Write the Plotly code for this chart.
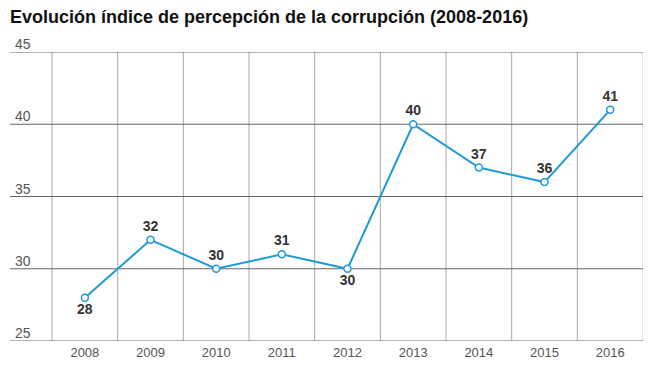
import plotly.graph_objects as go

years = ["2008", "2009", "2010", "2011", "2012", "2013", "2014", "2015", "2016"]
values = [28, 32, 30, 31, 30, 40, 37, 36, 41]
label_pos = ["bottom center", "top center", "top center", "top center", "bottom center",
             "top center", "top center", "top center", "top center"]
y_ticks = [25, 30, 35, 40, 45]

FONT = "Liberation Sans, Arial, sans-serif"

fig = go.Figure()
fig.add_trace(go.Scatter(
    x=list(range(len(years))), y=values,
    mode="lines+markers+text",
    line=dict(color="#1f9ad6", width=2),
    marker=dict(size=7, color="white", line=dict(color="#1f9ad6", width=1.5)),
    text=[str(v) for v in values],
    textposition=label_pos,
    textfont=dict(family=FONT, size=14, color="#333333", weight="bold"),
    cliponaxis=False,
    hoverinfo="skip",
))

shapes = []
for k in range(len(years)):
    xk = k - 0.5
    shapes.append(dict(type="line", xref="x", yref="paper", x0=xk, x1=xk, y0=0, y1=1,
                       line=dict(color="#a8a8a8", width=1), layer="below"))
shapes.append(dict(type="line", xref="x", yref="paper", x0=8.5, x1=8.5, y0=0, y1=1,
                   line=dict(color="#cccccc", width=1), layer="below"))
for t in y_ticks:
    shapes.append(dict(type="line", xref="paper", yref="y", x0=0, x1=1, y0=t, y1=t,
                       line=dict(color="#666666", width=1), layer="below"))

annotations = []
for t in y_ticks:
    annotations.append(dict(xref="paper", yref="y", x=0, y=t, text=str(t), showarrow=False,
                            xanchor="left", yanchor="bottom", xshift=3, yshift=-2,
                            font=dict(family=FONT, size=14, color="#555555")))
annotations.append(dict(xref="paper", yref="paper", x=0, y=1, xshift=-2, yshift=47,
                        xanchor="left", yanchor="top", showarrow=False,
                        text="<b>Evolución índice de percepción de la corrupción (2008-2016)</b>",
                        font=dict(family=FONT, size=18, color="#111111")))

# the page body adds an 8px offset, so the figure is sized to compensate
fig.update_layout(
    width=652, height=363,
    margin=dict(l=2, r=17, t=44, b=30, autoexpand=False),
    paper_bgcolor="white", plot_bgcolor="white",
    showlegend=False,
    shapes=shapes,
    annotations=annotations,
    xaxis=dict(range=[-1.14, 8.5], tickvals=list(range(len(years))), ticktext=years,
               showgrid=False, zeroline=False, showline=False, ticks="", automargin=False,
               ticklabelstandoff=2,
               tickfont=dict(family=FONT, size=13, color="#555555")),
    yaxis=dict(range=[25, 45], showgrid=False, zeroline=False, showline=False,
               showticklabels=False, ticks="", automargin=False),
)

fig.write_html("out.html")
